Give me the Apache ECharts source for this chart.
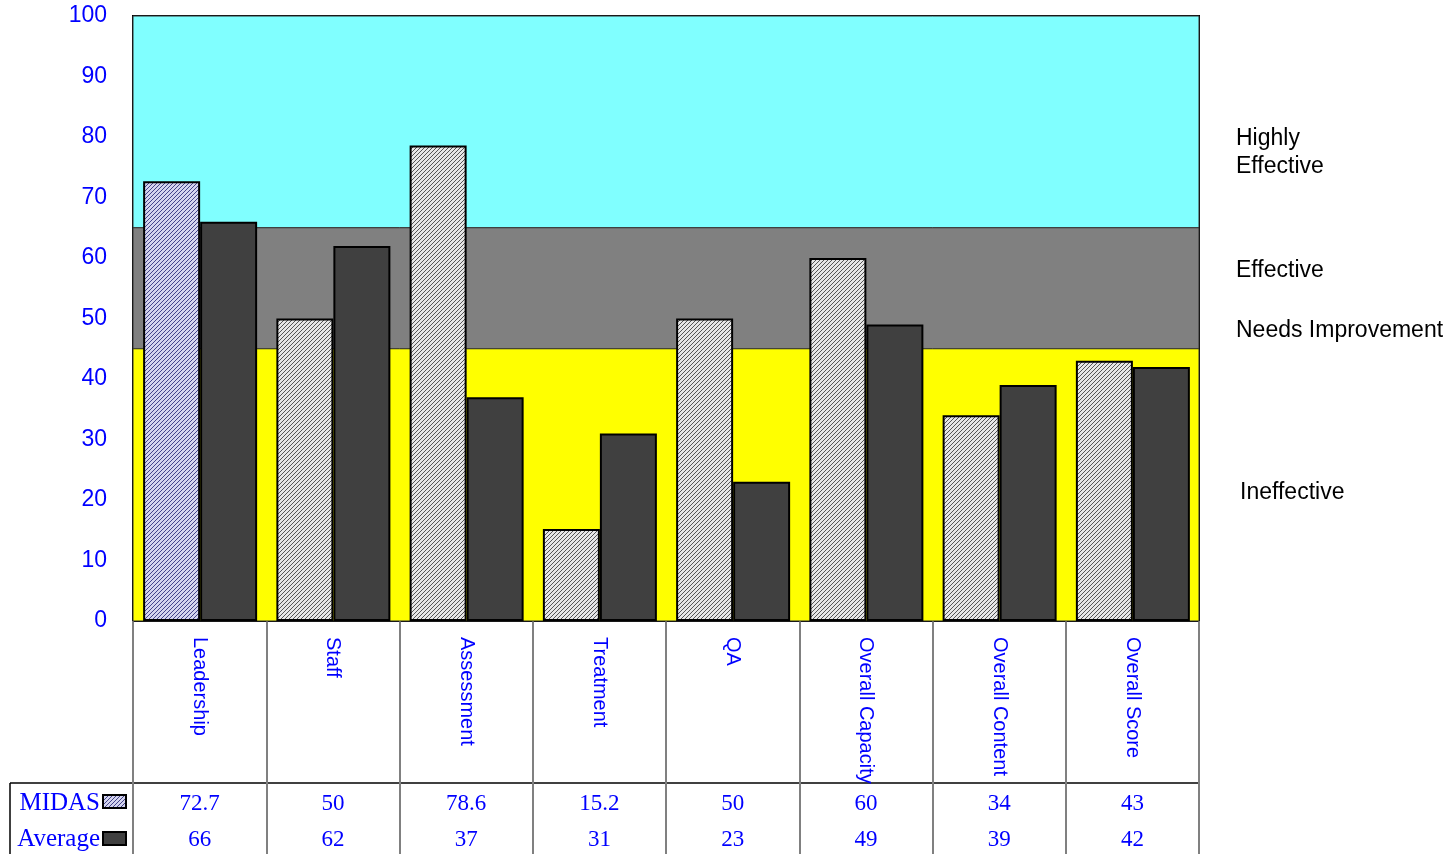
<!DOCTYPE html>
<html><head><meta charset="utf-8">
<script src="https://cdn.jsdelivr.net/npm/echarts@6/dist/echarts.min.js"></script>
<style>html,body{margin:0;padding:0;background:#fff}#c{width:1454px;height:854px}</style>
</head><body><div id="c"></div>
<script>
const categories = ['Leadership','Staff','Assessment','Treatment','QA','Overall Capacity','Overall Content','Overall Score'];
const midas = [72.7, 50, 78.6, 15.2, 50, 60, 34, 43];
const average = [66, 62, 37, 31, 23, 49, 39, 42];
const yTicks = [0,10,20,30,40,50,60,70,80,90,100];
const bands = [
  {name:'Highly Effective', from:65, to:100, color:'#80FFFF'},
  {name:'Effective', from:45, to:65, color:'#808080'},
  {name:'Ineffective', from:0, to:45, color:'#FFFF00'}
];
const seriesNames = ['MIDAS','Average'];

function hatch(bg, fg){
  const c = document.createElement('canvas'); c.width = 4; c.height = 4;
  const g = c.getContext('2d'); g.fillStyle = bg; g.fillRect(0,0,4,4);
  g.fillStyle = fg;
  for (let i=0;i<4;i++){ g.fillRect(3-i, i, 1, 1); }
  return c;
}
const grayHatch = hatch('#e6e6e6', '#555555');
const blueHatch = hatch('#d4d4ee', '#44448a');

const chart = echarts.init(document.getElementById('c'), null, {renderer:'canvas'});
const sans = 'Liberation Sans, Arial, sans-serif';
const serif = 'Liberation Serif, Times New Roman, serif';

chart.setOption({
  animation:false,
  grid:{left:133, top:16, right:255, bottom:233, show:true, borderColor:'#000', borderWidth:2, backgroundColor:'transparent',
    containLabel:false, outerBoundsMode:'none'},
  xAxis:[{
    type:'category', data:categories, position:'bottom',
    axisLine:{show:true, lineStyle:{color:'#000', width:2}},
    axisTick:{show:true, length:233, lineStyle:{color:'#808080', width:2}},
    axisLabel:{rotate:-90, color:'#0000FF', fontFamily:sans, fontSize:20, margin:16, interval:0}
  },{
    type:'category', data:categories, position:'bottom',
    axisLine:{show:false}, axisTick:{show:false},
    axisLabel:{interval:0, margin:165, fontFamily:serif, fontSize:23, color:'#0000FF', lineHeight:36,
      formatter:(v,i)=> String(midas[i]) + '\n' + String(average[i])}
  }],
  yAxis:{type:'value', min:0, max:100, interval:10,
    axisLine:{show:true, lineStyle:{color:'#000', width:2}},
    axisTick:{show:false},
    axisLabel:{color:'#0000FF', fontFamily:sans, fontSize:23, margin:26},
    splitLine:{show:true, lineStyle:{color:'#0000FF', width:1}}
  },
  series:[
    {type:'bar', name:'bands', data:[], z:-1, silent:true,
      markArea:{silent:true, data: bands.map(b=>[{yAxis:b.from, itemStyle:{color:b.color, borderColor:'#333', borderWidth:1}},{yAxis:b.to}])}
    },
    {type:'bar', name:seriesNames[0], barWidth:57, barGap:'0%',
      data: midas.map((v,i)=>({value:v, itemStyle:{color:{image: i===0?blueHatch:grayHatch, repeat:'repeat'}}})),
      itemStyle:{borderColor:'#000', borderWidth:2}},
    {type:'bar', name:seriesNames[1], barWidth:57, barGap:'0%',
      data: average, itemStyle:{color:'#404040', borderColor:'#000', borderWidth:2}}
  ],
  graphic:[
    {type:'line', shape:{x1:10,y1:783,x2:1199,y2:783}, style:{stroke:'#000', lineWidth:1.5}},
    {type:'line', shape:{x1:10,y1:783,x2:10,y2:854}, style:{stroke:'#000', lineWidth:1.5}},
    {type:'text', right:1454-100, top:791, style:{text:seriesNames[0], font:'25px '+serif, fill:'#0000FF'}},
    {type:'text', right:1454-100, top:827, style:{text:seriesNames[1], font:'25px '+serif, fill:'#0000FF'}},
    {type:'rect', shape:{x:103,y:795,width:23,height:13}, style:{fill:{image:blueHatch, repeat:'repeat'}, stroke:'#000', lineWidth:2}},
    {type:'rect', shape:{x:103,y:832,width:23,height:13}, style:{fill:'#404040', stroke:'#000', lineWidth:2}},
    {type:'text', left:1236, top:125, style:{text:'Highly\nEffective', font:'23px '+sans, fill:'#000', lineHeight:28}},
    {type:'text', left:1236, top:259, style:{text:'Effective', font:'23px '+sans, fill:'#000'}},
    {type:'text', left:1236, top:319, style:{text:'Needs Improvement', font:'23px '+sans, fill:'#000'}},
    {type:'text', left:1240, top:481, style:{text:'Ineffective', font:'23px '+sans, fill:'#000'}}
  ]
});
</script></body></html>
